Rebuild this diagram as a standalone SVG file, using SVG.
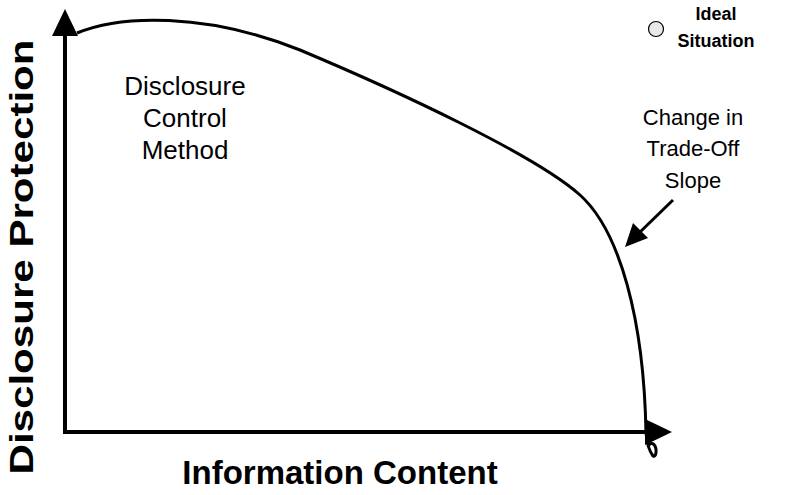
<svg xmlns="http://www.w3.org/2000/svg" width="789" height="495" viewBox="0 0 789 495">
<style>
.ax{stroke:#000;stroke-width:4;fill:none}
.cv{stroke:#000;stroke-width:3;fill:none}
.t{font-family:"Liberation Sans",Arial,sans-serif;fill:#000;text-anchor:middle}
.b{font-weight:bold}
</style>
<rect width="789" height="495" fill="#fff"/>
<g id="connectors">
<line class="ax" x1="65" y1="434" x2="65" y2="34"/>
<polygon points="65,9 52,36 78,36" fill="#000"/>
<line class="ax" x1="63" y1="432" x2="648" y2="432"/>
<polygon points="672,432 645,419 645,445" fill="#000"/>
<path class="cv" d="M77,33 C120,15 205,12 300,50 C400,92 535,155 580,195 C620,231 644,320 646,433 C647,445 650,452 653,456 C656,458 657,450 655,446 C653,442 649,443 648,447"/>
<line stroke="#000" stroke-width="3" x1="673" y1="200" x2="638" y2="234"/>
<polygon points="625,247 633,223 648,238" fill="#000"/>
</g>
<g id="ylabel"><text class="t b" font-size="34" textLength="435" lengthAdjust="spacingAndGlyphs" transform="translate(33,257) rotate(-90)">Disclosure Protection</text></g>
<g id="xlabel"><text class="t b" font-size="33" x="340" y="484">Information Content</text></g>
<g id="method"><text class="t" font-size="26" x="185" y="95">Disclosure</text><text class="t" font-size="26" x="185" y="127">Control</text><text class="t" font-size="26" x="185" y="159">Method</text></g>
<g id="slope"><text class="t" font-size="22" x="693" y="125">Change in</text><text class="t" font-size="22" x="693" y="156">Trade-Off</text><text class="t" font-size="22" x="693" y="188">Slope</text></g>
<g id="ideal"><circle cx="656" cy="29" r="7.5" fill="#e8e8e8" stroke="#000" stroke-width="1.2"/><text class="t b" font-size="18" x="716" y="20">Ideal</text><text class="t b" font-size="18" x="716" y="47">Situation</text></g>
</svg>
